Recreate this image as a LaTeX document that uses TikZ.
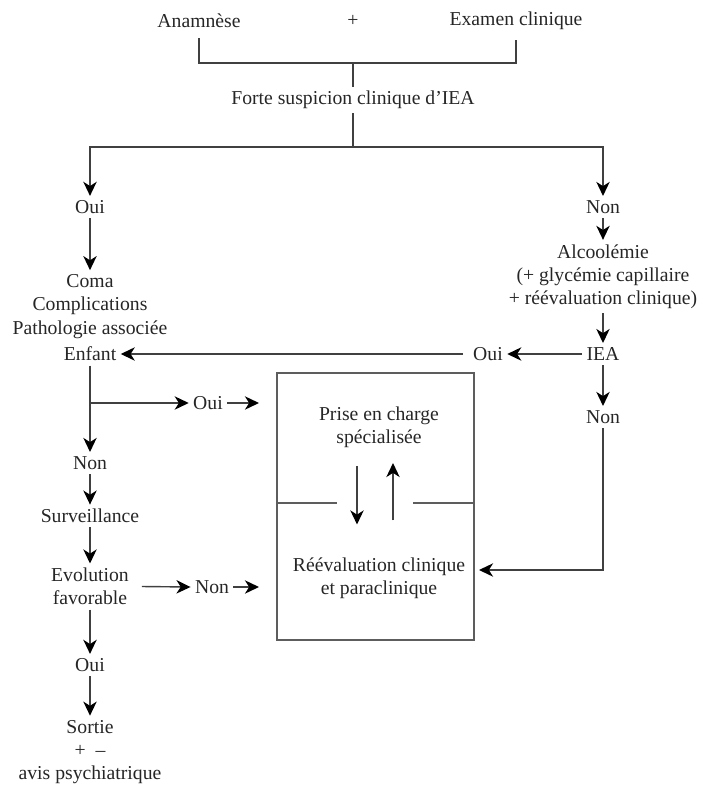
\documentclass[tikz,border=0pt]{standalone}
\usepackage{fontspec}
\setmainfont{Liberation Serif}
\usetikzlibrary{%
	calc,%
	arrows.meta%
}
\definecolor{greytext}{gray}{0.15}
\definecolor{greyline}{gray}{0.25}

\begin{document}
\begin{tikzpicture}[x=0.025cm,y=-0.025cm,
		txt/.style={inner sep=3pt,align=center,text=greytext,font=\fontsize{14}{16.5}\selectfont},
		ln/.style={greyline,line width=1pt},
		arr/.style={ln,-{Stealth[length=10pt,width=9.5pt,inset=3pt,black]}},
		boxline/.style={greyline!85,line width=1.4pt}
	]
	\useasboundingbox (0,0) rectangle (700,785);
	% Top: history and examination
	\node[txt] (anam) at (199,21) {Anamnèse};
	\node[txt] (plus) at (353,21) {+};
	\node[txt] (exam) at (516,21) {Examen clinique};
	\node[txt] (forte) at (353,100) {Forte suspicion clinique d'IEA};
	\coordinate (j1) at (353,63);
	\coordinate (j2) at (353,147);
	\draw[ln] ([yshift=-4pt]anam.south) |- (j1) -| ([yshift=-4pt]exam.south);
	\draw[ln] (j1) -- (forte.north);
	\draw[ln] (forte.south) -- (j2);
	
	% Left column
	\node[txt] (oui1) at (90,207) {Oui};
	\node[txt] (crit) at (90,306.5) {Coma\\Complications\\Pathologie associée};
	\node[txt] (enfant) at (90,354) {Enfant};
	\node[txt] (non3) at (90,463) {Non};
	\node[txt] (surv) at (90,516) {Surveillance};
	\node[txt] (evol) at (90,586.5) {Evolution\\favorable};
	\node[txt] (oui4) at (90,665) {Oui};
	\node[txt] (sortie) at (90,752) {Sortie\\+\enspace–\\avis psychiatrique};
	\node[txt] (oui3) at (208,403) {Oui};
	\node[txt] (non4) at (212,587) {Non};
	
	% Right column
	\node[txt] (non1) at (603,207) {Non};
	\node[txt] (alco) at (603,276.5) {Alcoolémie\\(+ glycémie capillaire\\+ réévaluation clinique)};
	\node[txt] (iea) at (603,354) {IEA};
	\node[txt] (oui2) at (488,354) {Oui};
	\node[txt] (non2) at (603,417) {Non};
	
	% Box
	\node[boxline,draw,minimum width=4.925cm,minimum height=6.675cm] (pec) at (375.5,506.5) {};
	\draw[boxline] (277,503) -- (337,503) (413,503) -- (474,503);
	\node[txt] (prise) at (379,427) {Prise en charge\\spécialisée};
	\node[txt] (reeval) at (379,578.5) {Réévaluation clinique\\et paraclinique};
	
	% Arrows
	\draw[arr] (j2) -| (oui1.north);
	\draw[arr] (j2) -| (non1.north);
	\draw[arr] (oui1.south) -- (crit.north);
	\draw[arr] (non1.south) -- (alco.north);
	\draw[arr] (alco.south) -- (iea.north);
	\draw[arr] (iea.west) -- (oui2.east);
	\draw[arr] ([xshift=-4pt]oui2.west) -- (oui2.west -| enfant.east);
	\draw[arr] (iea.south) -- (non2.north);
	\draw[arr] (non2.south) |- ($(pec.east)+(4,63.5)$);
	\draw[arr] (enfant.south) -- (non3.north);
	\draw[arr] (enfant.south |- oui3) -- (oui3.west);
	\draw[arr] (oui3.east) -- ($(oui3.east -| pec.west)+(-17,0)$);
	\draw[arr] (non3.south) -- (surv.north);
	\draw[arr] (surv.south) -- (evol.north);
	\draw[arr] ([xshift=6pt]evol.east) -- (non4.west);
	\draw[arr] (non4.east) -- ($(non4.east -| pec.west)+(-17,0)$);
	\draw[arr] (evol.south) -- (oui4.north);
	\draw[arr] (oui4.south) -- (sortie.north);
	\draw[arr] ($(prise.south)+(-22,14)$) -- ($(reeval.north)+(-22,-29)$);
	\draw[arr] ($(reeval.north)+(14,-33)$) -- ($(prise.south)+(14,11)$);
\end{tikzpicture}
\end{document}
